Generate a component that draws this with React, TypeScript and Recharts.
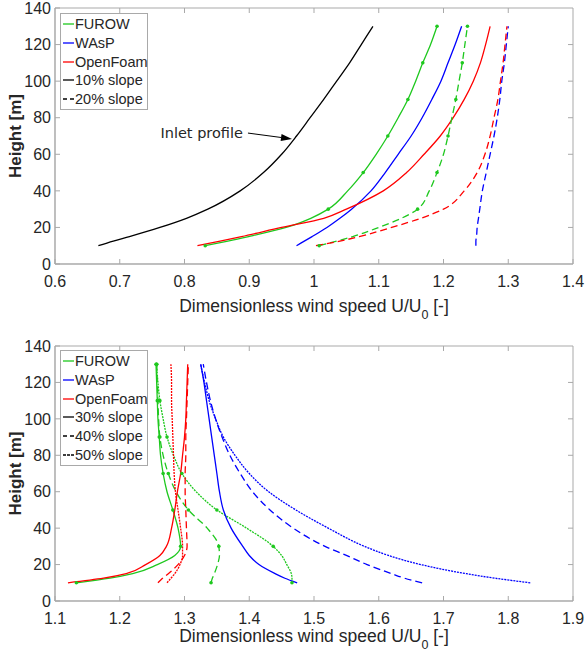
import React from "react";
import { LineChart, Line, XAxis, YAxis, Legend, ReferenceLine, ReferenceArea } from "recharts";

// heights [m] shared by every profile
const heights = [10, 12.5, 15, 20, 25, 30, 40, 50, 60, 70, 80, 90, 100, 110, 120, 130];
const markerHeights = [10, 30, 50, 70, 90, 110, 130];

// top panel: 10% and 20% slope
const inletProfile = [0.667, 0.69, 0.715, 0.762, 0.803, 0.836, 0.886, 0.922, 0.95, 0.973, 0.994, 1.015, 1.035, 1.055, 1.073, 1.091];
const furow10 = [0.832, 0.867, 0.899, 0.957, 0.995, 1.022, 1.052, 1.076, 1.096, 1.114, 1.13, 1.145, 1.157, 1.168, 1.18, 1.19];
const wasp10 = [0.973, 0.985, 0.997, 1.02, 1.04, 1.058, 1.088, 1.11, 1.13, 1.15, 1.167, 1.182, 1.196, 1.207, 1.218, 1.228];
const openfoam10 = [0.82, 0.855, 0.888, 0.95, 1.015, 1.05, 1.107, 1.143, 1.17, 1.195, 1.215, 1.232, 1.246, 1.257, 1.265, 1.272];
const furow20 = [1.008, 1.035, 1.06, 1.1, 1.135, 1.16, 1.178, 1.19, 1.2, 1.207, 1.213, 1.219, 1.224, 1.229, 1.233, 1.237];
const wasp20 = [1.25, 1.25, 1.251, 1.252, 1.254, 1.256, 1.26, 1.266, 1.272, 1.278, 1.283, 1.287, 1.29, 1.294, 1.297, 1.3];
const openfoam20 = [1.003, 1.04, 1.07, 1.12, 1.165, 1.2, 1.232, 1.252, 1.264, 1.272, 1.278, 1.284, 1.288, 1.292, 1.295, 1.298];

// bottom panel: 30%, 40% and 50% slope
const furow30 = [1.133, 1.185, 1.22, 1.258, 1.285, 1.294, 1.29, 1.282, 1.273, 1.267, 1.263, 1.261, 1.259, 1.258, 1.257, 1.256];
const furow40 = [1.341, 1.343, 1.346, 1.351, 1.354, 1.353, 1.335, 1.306, 1.287, 1.275, 1.267, 1.262, 1.26, 1.259, 1.258, 1.257];
const furow50 = [1.466, 1.466, 1.465, 1.458, 1.45, 1.437, 1.396, 1.35, 1.318, 1.296, 1.283, 1.273, 1.267, 1.262, 1.259, 1.257];
const wasp30 = [1.474, 1.455, 1.44, 1.415, 1.4, 1.39, 1.372, 1.36, 1.354, 1.35, 1.346, 1.342, 1.338, 1.334, 1.33, 1.325];
const wasp40 = [1.667, 1.64, 1.62, 1.582, 1.55, 1.517, 1.468, 1.432, 1.405, 1.386, 1.37, 1.358, 1.348, 1.34, 1.334, 1.329];
const wasp50 = [1.834, 1.78, 1.735, 1.665, 1.615, 1.578, 1.522, 1.472, 1.43, 1.4, 1.378, 1.36, 1.348, 1.338, 1.331, 1.325];
const openfoam30 = [1.12, 1.175, 1.21, 1.24, 1.262, 1.272, 1.28, 1.285, 1.289, 1.294, 1.297, 1.3, 1.302, 1.303, 1.304, 1.305];
const openfoam40 = [1.259, 1.266, 1.275, 1.29, 1.3, 1.304, 1.303, 1.302, 1.301, 1.301, 1.302, 1.302, 1.303, 1.304, 1.305, 1.306];
const openfoam50 = [1.273, 1.279, 1.285, 1.293, 1.297, 1.297, 1.294, 1.29, 1.286, 1.284, 1.283, 1.282, 1.281, 1.28, 1.28, 1.279];

const topTicks = [0.6, 0.7, 0.8, 0.9, 1, 1.1, 1.2, 1.3, 1.4];
const bottomTicks = [1.1, 1.2, 1.3, 1.4, 1.5, 1.6, 1.7, 1.8, 1.9];
const heightTicks = [0, 20, 40, 60, 80, 100, 120, 140];

// arrow for the "Inlet profile" note (data coords: start, tip)
const inletArrow = [{ x: 0.898, y: 71.6 }, { x: 0.966, y: 68.4 }];

const GREEN = "#1ec81e";
const BLUE = "#0000ff";
const RED = "#ff0000";
const BLACK = "#000000";
const DASH = "7 4";
const DOT = "2 1";
const AXIS = "#a9a9a9";
const TEXT = "#262626";
const FONT = "'Liberation Sans', Arial, sans-serif";
const H_MAX = 140;

type Series = { key: string; values: number[]; color: string; dash?: string; markers?: boolean };

const topSeries: Series[] = [
  { key: "inlet", values: inletProfile, color: BLACK },
  { key: "furow10", values: furow10, color: GREEN, markers: true },
  { key: "wasp10", values: wasp10, color: BLUE },
  { key: "openfoam10", values: openfoam10, color: RED },
  { key: "furow20", values: furow20, color: GREEN, dash: DASH, markers: true },
  { key: "wasp20", values: wasp20, color: BLUE, dash: DASH },
  { key: "openfoam20", values: openfoam20, color: RED, dash: DASH },
];

const bottomSeries: Series[] = [
  { key: "furow30", values: furow30, color: GREEN, markers: true },
  { key: "furow40", values: furow40, color: GREEN, dash: DASH, markers: true },
  { key: "furow50", values: furow50, color: GREEN, dash: DOT, markers: true },
  { key: "wasp30", values: wasp30, color: BLUE },
  { key: "wasp40", values: wasp40, color: BLUE, dash: DASH },
  { key: "wasp50", values: wasp50, color: BLUE, dash: DOT },
  { key: "openfoam30", values: openfoam30, color: RED },
  { key: "openfoam40", values: openfoam40, color: RED, dash: DASH },
  { key: "openfoam50", values: openfoam50, color: RED, dash: DOT },
];

const topLegend = [
  { label: "FUROW", color: GREEN },
  { label: "WAsP", color: BLUE },
  { label: "OpenFoam", color: RED },
  { label: "10% slope", color: BLACK },
  { label: "20% slope", color: BLACK, dash: "4 3" },
];

const bottomLegend = [
  { label: "FUROW", color: GREEN },
  { label: "WAsP", color: BLUE },
  { label: "OpenFoam", color: RED },
  { label: "30% slope", color: BLACK },
  { label: "40% slope", color: BLACK, dash: "4 3" },
  { label: "50% slope", color: BLACK, dash: "3 1" },
];

function buildRows(series: Series[]) {
  return heights.map((h, i) => {
    const row: Record<string, number> = { h };
    series.forEach((s) => (row[s.key] = s.values[i]));
    return row;
  });
}

function markerDot(color: string) {
  return (props: any) => {
    const { cx, cy, payload, index } = props;
    if (!markerHeights.includes(payload.h)) return <g key={`m${index}`} />;
    return <circle key={`m${index}`} cx={cx} cy={cy} r={1.8} fill={color} stroke="none" />;
  };
}

function LegendBox({ items }: { items: { label: string; color: string; dash?: string }[] }) {
  return (
    <div
      style={{
        boxSizing: "border-box",
        width: 88,
        border: `1px solid ${AXIS}`,
        background: "#fff",
        padding: "1px 0 1px 1px",
        fontFamily: FONT,
        fontSize: 14.5,
        color: TEXT,
      }}
    >
      {items.map((it) => (
        <div key={it.label} style={{ display: "flex", alignItems: "center", height: 18.7 }}>
          <svg width={12} height={4} style={{ marginRight: 1, flex: "none" }}>
            <line x1={1} y1={2} x2={12} y2={2} stroke={it.color} strokeWidth={1.3} strokeDasharray={it.dash} />
          </svg>
          <span style={{ whiteSpace: "nowrap" }}>{it.label}</span>
        </div>
      ))}
    </div>
  );
}

const yLabel = (props: any) => {
  const { x, y, height } = props.viewBox;
  const cx = x + 5;
  const cy = y + height / 2;
  return (
    <text
      x={cx}
      y={cy}
      transform={`rotate(-90 ${cx} ${cy})`}
      textAnchor="middle"
      dominantBaseline="central"
      fontFamily={FONT}
      fontWeight="bold"
      fontSize={17}
      fill={TEXT}
    >
      Height [m]
    </text>
  );
};

function xLabel(dy: number) {
  return (props: any) => {
    const { x, y, width } = props.viewBox;
    return (
      <text x={x + width / 2} y={y + dy} textAnchor="middle" fontFamily={FONT} fontSize={17.5} fill={TEXT}>
        Dimensionless wind speed U/U
        <tspan dy={7} fontSize={12.5}>0</tspan>
        <tspan dy={-7}> [-]</tspan>
      </text>
    );
  };
}

const inletArrowShape = (props: any) => {
  const { x1, y1, x2, y2 } = props;
  const ang = Math.atan2(y2 - y1, x2 - x1);
  const len = 11;
  const wid = 3.5;
  const bx = x2 - len * Math.cos(ang);
  const by = y2 - len * Math.sin(ang);
  const px = -Math.sin(ang) * wid;
  const py = Math.cos(ang) * wid;
  return (
    <g>
      <text x={x1 - 5} y={y1 + 5} textAnchor="end" fontFamily="'DejaVu Sans', sans-serif" fontSize={14.5} fill={TEXT}>
        Inlet profile
      </text>
      <line x1={x1} y1={y1} x2={bx} y2={by} stroke={BLACK} strokeWidth={1} />
      <polygon points={`${x2},${y2} ${bx + px},${by + py} ${bx - px},${by - py}`} fill={BLACK} />
    </g>
  );
};

type PanelProps = {
  series: Series[];
  legend: { label: string; color: string; dash?: string }[];
  xTicks: number[];
  margin: { top: number; right: number; bottom: number; left: number };
  legendTop: number;
  labelDy: number;
  annotate?: boolean;
};

function Panel({ series, legend, xTicks, margin, legendTop, labelDy, annotate }: PanelProps) {
  const rows = buildRows(series);
  const tickStyle = { fontFamily: FONT, fontSize: 16, fill: TEXT };
  const domain: [number, number] = [xTicks[0], xTicks[xTicks.length - 1]];
  // inward tick length of the top/right frame, in data units (about 5px)
  const plotW = 585 - margin.left - 45 - margin.right;
  const plotH = 330 - margin.top - margin.bottom - 50;
  const dxTick = ((domain[1] - domain[0]) * 5) / plotW;
  const dhTick = (H_MAX * 5) / plotH;
  return (
    <LineChart width={585} height={330} data={rows} layout="vertical" margin={margin}>
      <XAxis
        type="number"
        domain={domain}
        ticks={xTicks}
        allowDataOverflow
        height={50}
        stroke={AXIS}
        tickSize={-5}
        tickMargin={17}
        tick={tickStyle}
        interval={0}
        label={xLabel(labelDy)}
      />
      <YAxis
        type="number"
        dataKey="h"
        domain={[0, H_MAX]}
        ticks={heightTicks}
        allowDataOverflow
        reversed
        width={45}
        stroke={AXIS}
        tickSize={-5}
        tickMargin={9}
        tick={tickStyle}
        interval={0}
        label={yLabel}
      />
      {/* box around the axes with inward ticks on top and right */}
      <ReferenceArea
        x1={domain[0]}
        x2={domain[1]}
        y1={0}
        y2={H_MAX}
        fill="none"
        stroke={AXIS}
        strokeWidth={1}
        ifOverflow="visible"
      />
      {xTicks.slice(1, -1).map((t) => (
        <ReferenceLine
          key={`tx${t}`}
          segment={[{ x: t, y: H_MAX }, { x: t, y: H_MAX - dhTick }]}
          stroke={AXIS}
          ifOverflow="visible"
        />
      ))}
      {heightTicks.slice(1, -1).map((t) => (
        <ReferenceLine
          key={`ty${t}`}
          segment={[{ x: domain[1], y: t }, { x: domain[1] - dxTick, y: t }]}
          stroke={AXIS}
          ifOverflow="visible"
        />
      ))}
      {series.map((s) => (
        <Line
          key={s.key}
          dataKey={s.key}
          type="monotone"
          stroke={s.color}
          strokeWidth={1.3}
          strokeDasharray={s.dash}
          dot={s.markers ? markerDot(s.color) : false}
          activeDot={false}
          isAnimationActive={false}
        />
      ))}
      {annotate && (
        <ReferenceLine segment={inletArrow} ifOverflow="visible" shape={inletArrowShape} />
      )}
      <Legend
        layout="vertical"
        align="center"
        verticalAlign="middle"
        wrapperStyle={{ left: 60, top: legendTop, width: 88 }}
        content={() => <LegendBox items={legend} />}
      />
    </LineChart>
  );
}

export default function App() {
  return (
    <div style={{ position: "absolute", left: 0, top: 0, width: 585, height: 660, background: "#fff" }}>
      <Panel
        series={topSeries}
        legend={topLegend}
        xTicks={topTicks}
        margin={{ top: 8, right: 12, bottom: 16, left: 10 }}
        legendTop={13}
        labelDy={48}
        annotate
      />
      <Panel
        series={bottomSeries}
        legend={bottomLegend}
        xTicks={bottomTicks}
        margin={{ top: 16, right: 12, bottom: 9, left: 10 }}
        legendTop={20}
        labelDy={41}
      />
    </div>
  );
}
